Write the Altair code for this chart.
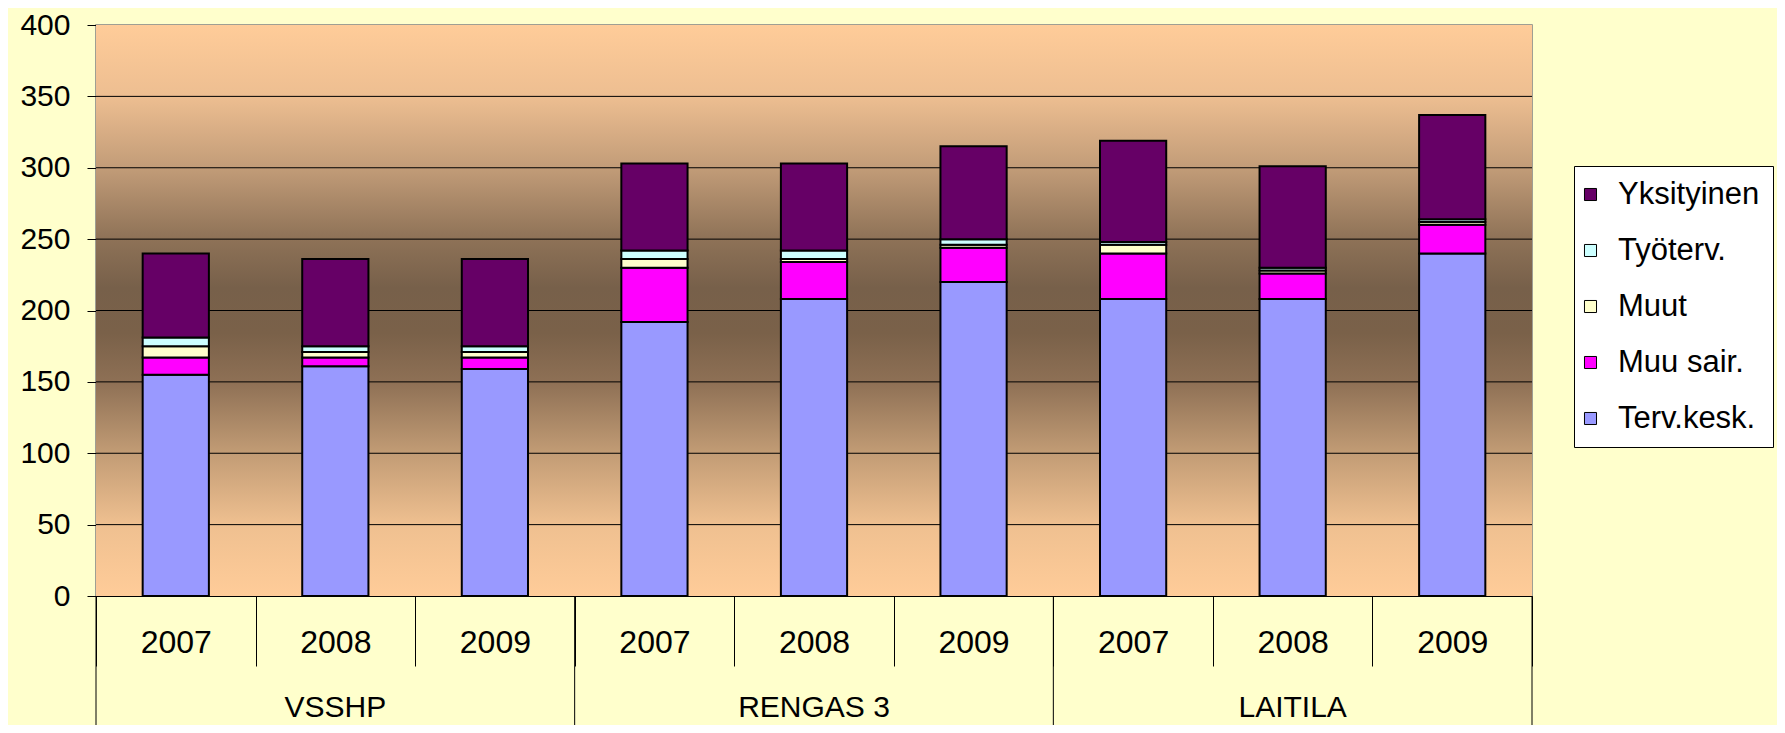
import altair as alt
import pandas as pd

# ---- data ----
groups = ["VSSHP", "RENGAS 3", "LAITILA"]
years = ["2007", "2008", "2009"]
series = ["Terv.kesk.", "Muu sair.", "Muut", "Työterv.", "Yksityinen"]
terv_kesk = [155, 161, 159, 192, 208, 220, 208, 208, 240]
muu_sair = [12, 6, 8, 38, 26, 24, 32, 18, 20]
muut = [8, 4, 4, 6, 2, 2, 6, 2, 2]
tyoterv = [6, 4, 4, 6, 6, 4, 2, 2, 2]
yksityinen = [59, 61, 61, 61, 61, 65, 71, 71, 73]
colors = ["#9999FF", "#FF00FF", "#FFFFCC", "#CCFFFF", "#660066"]
grid_values = [50, 100, 150, 200, 250, 300, 350]

keys = [f"{g}|{y}" for g in groups for y in years]
values_by_series = [terv_kesk, muu_sair, muut, tyoterv, yksityinen]

rows = []
for si, (s, vals) in enumerate(zip(series, values_by_series)):
    for k, v in zip(keys, vals):
        rows.append({"key": k, "series": s, "value": v, "ord": si})
df = pd.DataFrame(rows)

W, H = 1436, 571
FONT = "Liberation Sans"

xscale = alt.Scale(paddingInner=0, paddingOuter=0)
xax = alt.Axis(
    title=None,
    labelExpr="split(datum.label, '|')[1]",
    labelAngle=0,
    tickBand="extent",
    tickSize=70,
    tickColor="black",
    tickWidth=1,
    domainColor="black",
    domainWidth=1,
    labelFont=FONT,
    labelFontSize=32,
    labelColor="black",
    labelBaseline="middle",
    labelPadding=-24,
    labelOverlap=False,
    grid=False,
)
yscale = alt.Scale(domain=[0, 400], nice=False)
yax = alt.Axis(
    title=None,
    values=[0, 50, 100, 150, 200, 250, 300, 350, 400],
    tickSize=9,
    tickColor="black",
    domainColor="black",
    labelFont=FONT,
    labelFontSize=30,
    labelColor="black",
    labelPadding=17,
    grid=False,
)

gradient = alt.Gradient(
    gradient="linear",
    stops=[
        alt.GradientStop(color="#FFCC99", offset=0.0),
        alt.GradientStop(color="#EDBE91", offset=0.125),
        alt.GradientStop(color="#C29C78", offset=0.25),
        alt.GradientStop(color="#8E7257", offset=0.375),
        alt.GradientStop(color="#77604A", offset=0.46),
        alt.GradientStop(color="#7A6149", offset=0.54),
        alt.GradientStop(color="#8E7055", offset=0.625),
        alt.GradientStop(color="#C29C75", offset=0.75),
        alt.GradientStop(color="#EFC090", offset=0.875),
        alt.GradientStop(color="#FFCC99", offset=1.0),
    ],
    x1=0, x2=0, y1=0, y2=1,
)

bg = alt.Chart(pd.DataFrame({"a": [0]})).mark_rect(color=gradient).encode(
    x=alt.value(0), x2=alt.value(W), y=alt.value(0), y2=alt.value(H)
)

grid = alt.Chart(pd.DataFrame({"v": grid_values})).mark_rule(
    color="black", strokeWidth=1
).encode(y=alt.Y("v:Q", scale=yscale, axis=yax))

bars = alt.Chart(df).mark_bar(
    width=alt.RelativeBandSize(0.415), stroke="black", strokeWidth=2
).encode(
    x=alt.X("key:N", sort=keys, scale=xscale, axis=xax),
    y=alt.Y("value:Q", stack="zero", scale=yscale, axis=yax),
    color=alt.Color(
        "series:N",
        scale=alt.Scale(domain=series[::-1], range=colors[::-1]),
        legend=alt.Legend(
            title=None,
            orient="none",
            legendX=1478,
            legendY=141,
            symbolType="square",
            symbolSize=145,
            symbolStrokeColor="black",
            symbolStrokeWidth=1,
            symbolOffset=-12,
            labelFont=FONT,
            labelFontSize=31,
            labelColor="black",
            labelOffset=12,
            labelLimit=300,
            rowPadding=24,
            padding=13,
            strokeColor="black",
            fillColor="white",
        ),
    ),
    order=alt.Order("ord:Q", sort="ascending"),
)

group_starts = pd.DataFrame({"key": [f"{g}|{years[0]}" for g in groups]})
sep = alt.Chart(group_starts).mark_rule(color="black", strokeWidth=1).encode(
    x=alt.X("key:N", sort=keys, scale=xscale, axis=xax, bandPosition=0),
    y=alt.value(H),
    y2=alt.value(H + 140),
)
sep_end = alt.Chart(pd.DataFrame({"key": [keys[-1]]})).mark_rule(
    color="black", strokeWidth=1
).encode(
    x=alt.X("key:N", sort=keys, scale=xscale, axis=xax, bandPosition=1),
    y=alt.value(H),
    y2=alt.value(H + 140),
)

group_labels = pd.DataFrame(
    {"key": [f"{g}|{years[1]}" for g in groups], "label": groups}
)
glabels = alt.Chart(group_labels).mark_text(
    font=FONT, fontSize=30, color="black", baseline="middle", align="center"
).encode(
    x=alt.X("key:N", sort=keys, scale=xscale, axis=xax),
    y=alt.value(H + 112),
    text="label:N",
)

chart = (
    alt.layer(bg, grid, bars, sep, sep_end, glabels)
    .properties(
        width=W,
        height=H,
        padding={"left": 88, "top": 17, "right": 245, "bottom": 129},
        autosize=alt.AutoSizeParams(type="none"),
        background="#FFFFCC",
    )
    .configure_view(stroke="#808080", strokeWidth=1.5)
)

chart.save("out.html", embed_options={"renderer": "svg", "actions": False})
